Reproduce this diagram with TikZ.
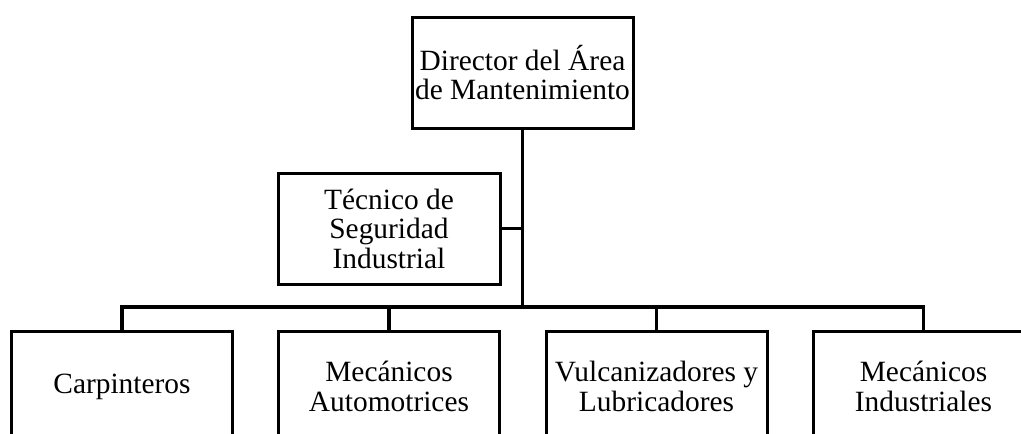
\documentclass[tikz,border=0pt]{standalone}
\usepackage{fontspec}
\setmainfont{Liberation Serif}
\begin{document}
\begin{tikzpicture}[x=1pt,y=-1pt,
  orgbox/.style={draw=black, line width=3pt, minimum width=221pt, minimum height=111pt, inner sep=0pt, align=center, font=\fontsize{29.4}{29.5}\selectfont},
  conn/.style={line width=3.2pt}]
\useasboundingbox (0,0) rectangle (1021,434);
\clip (0,0) rectangle (1021,434);
\node[orgbox] (dir) at (522.5,72.5) {Director del Área\\de Mantenimiento};
\node[orgbox, minimum width=222pt] (tec) at (389,228.5) {Técnico de\\Seguridad\\Industrial};
\node[orgbox] (carp) at (122,386.5) {Carpinteros};
\node[orgbox] (auto) at (389,386.5) {Mecánicos\\Automotrices};
\node[orgbox] (vulc) at (656.5,386.5) {Vulcanizadores y\\Lubricadores};
\node[orgbox] (ind) at (923.5,386.5) {Mecánicos\\Industriales};
\coordinate (bus) at (522.5,307);
\draw[conn] (dir.south) -- (bus);
\draw[conn] (tec.east) -- (tec.east -| bus);
\draw[conn] (carp.north) |- (bus) -| (ind.north);
\draw[conn] (auto.north) -- (auto.north |- bus);
\draw[conn] (vulc.north) -- (vulc.north |- bus);
\end{tikzpicture}
\end{document}
